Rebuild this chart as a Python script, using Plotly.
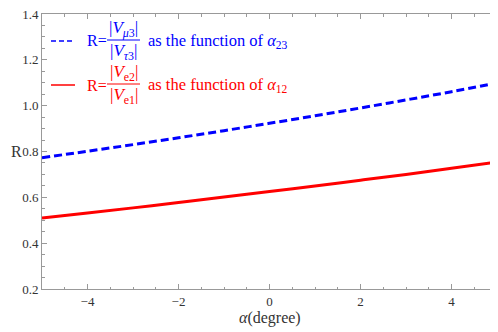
import plotly.graph_objects as go

# data
alpha = [-5, -4, -3, -2, -1, 0, 1, 2, 3, 4, 5]
R_mu3_tau3 = [0.773, 0.801, 0.830, 0.860, 0.891, 0.923, 0.956, 0.990, 1.025, 1.061, 1.099]
R_e2_e1 = [0.510, 0.532, 0.554, 0.577, 0.601, 0.625, 0.649, 0.675, 0.700, 0.727, 0.754]

# the page body offsets the figure by 8px; target positions below are screenshot pixels
OFF = 8
W, H = 498 - OFF, 332 - OFF
ML, MR, MT, MB = 42 - OFF, 1, 6, 43
PW, PH = W - ML - MR, H - MT - MB

def px(x):
    return (x - OFF - ML) / PW

def py(y):
    return (H - MB - (y - OFF)) / PH

SERIF = "Liberation Serif"
BLUE = "#0000ff"
RED = "#ff0000"
GRAY = "#999999"
TXT = "#333333"

fig = go.Figure()
fig.add_trace(go.Scatter(x=alpha, y=R_mu3_tau3, mode="lines", line=dict(color=BLUE, width=3, dash="8px,4px", shape="spline"), showlegend=False))
fig.add_trace(go.Scatter(x=alpha, y=R_e2_e1, mode="lines", line=dict(color=RED, width=3, shape="spline"), showlegend=False))

axis_common = dict(
    showgrid=False, zeroline=False, showline=True, linecolor=GRAY, linewidth=1,
    mirror="allticks", ticks="inside", ticklen=5, tickcolor=GRAY, automargin=False,
    ticklabeloverflow="allow",
    tickfont=dict(family=SERIF, size=13, color=TXT),
)
fig.update_xaxes(range=[-5, 5], tick0=-4, dtick=2,
                 minor=dict(ticks="inside", dtick=0.5, ticklen=2.5, tickcolor=GRAY, showgrid=False),
                 **axis_common)
fig.update_yaxes(range=[0.2, 1.4], dtick=0.2, tickformat=".1f",
                 minor=dict(ticks="inside", dtick=0.05, ticklen=2.5, tickcolor=GRAY, showgrid=False),
                 **axis_common)

annotations = [
    dict(xref="paper", yref="paper", x=px(269.5), y=py(318), text="<i>α</i>(degree)", showarrow=False,
         xanchor="center", yanchor="middle", font=dict(family=SERIF, size=16, color=TXT)),
    dict(xref="paper", yref="paper", x=px(9), y=py(151), text="R", showarrow=False,
         xanchor="left", yanchor="middle", font=dict(family=SERIF, size=16, color=TXT)),
]
shapes = []

# legend built from shapes and annotations
entries = [
    (40, BLUE, "5px,3px", "|<i>V</i><sub><i>μ</i>3</sub>|", "|<i>V</i><sub><i>τ</i>3</sub>|", "as the function of <i>α</i><sub>23</sub>"),
    (84, RED, "solid", "|<i>V</i><sub>e2</sub>|", "|<i>V</i><sub>e1</sub>|", "as the function of <i>α</i><sub>12</sub>"),
]
for yc, col, dash, num, den, tail in entries:
    shapes.append(dict(type="line", xref="paper", yref="paper", x0=px(51), x1=px(75), y0=py(yc + 1), y1=py(yc + 1),
                       line=dict(color=col, width=1.5, dash=dash)))
    shapes.append(dict(type="line", xref="paper", yref="paper", x0=px(107), x1=px(140), y0=py(yc), y1=py(yc),
                       line=dict(color=col, width=1)))
    annotations.append(dict(xref="paper", yref="paper", x=px(85), y=py(yc + 1), text="R=", showarrow=False,
                            xanchor="left", yanchor="middle", font=dict(family=SERIF, size=16, color=col)))
    annotations.append(dict(xref="paper", yref="paper", x=px(123.5), y=py(yc - 11), text=num, showarrow=False,
                            xanchor="center", yanchor="middle", font=dict(family=SERIF, size=17, color=col)))
    annotations.append(dict(xref="paper", yref="paper", x=px(123.5), y=py(yc + 12), text=den, showarrow=False,
                            xanchor="center", yanchor="middle", font=dict(family=SERIF, size=17, color=col)))
    annotations.append(dict(xref="paper", yref="paper", x=px(146), y=py(yc + 1), text=tail, showarrow=False,
                            xanchor="left", yanchor="middle", font=dict(family=SERIF, size=16.5, color=col)))

fig.update_layout(
    width=W, height=H, margin=dict(l=ML, r=MR, t=MT, b=MB),
    paper_bgcolor="white", plot_bgcolor="white",
    shapes=shapes, annotations=annotations,
)
fig.write_html("out.html")
